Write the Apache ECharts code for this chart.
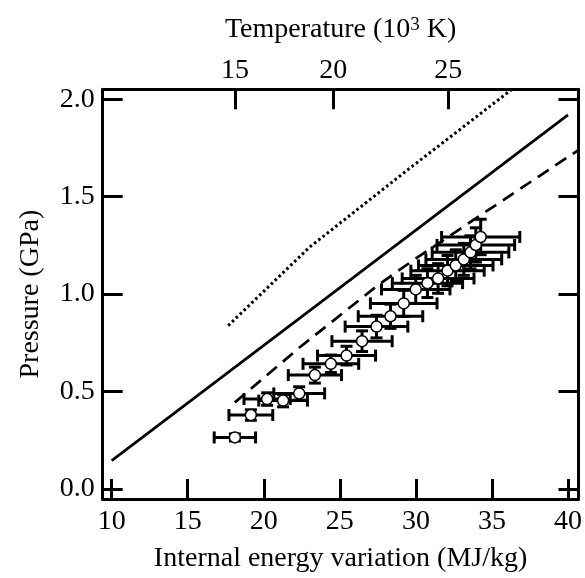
<!DOCTYPE html>
<html>
<head>
<meta charset="utf-8">
<script src="https://cdn.jsdelivr.net/npm/echarts@6/dist/echarts.min.js"></script>
<style>
html,body{margin:0;padding:0;background:#fff;}
#chart{width:585px;height:578px;}
</style>
</head>
<body>
<div id="chart"></div>
<script>
// ---- data ----
const energyTicks = [10, 15, 20, 25, 30, 35, 40];
const pressureTicks = [0, 0.5, 1.0, 1.5, 2.0];
const tempLabels = ['15', '20', '25'];
const tempTickEnergy = [18.10, 24.56, 32.12];

const energy = [18.10, 19.15, 20.22, 21.27, 22.33, 23.36, 24.41, 25.44, 26.46, 27.41, 28.33, 29.20, 29.99, 30.76, 31.46, 32.08, 32.62, 33.15, 33.59, 33.94, 34.26];
const pressure = [0.264, 0.379, 0.461, 0.453, 0.490, 0.584, 0.642, 0.684, 0.758, 0.833, 0.886, 0.952, 1.024, 1.056, 1.080, 1.120, 1.147, 1.178, 1.214, 1.252, 1.293];
const energyErr = [1.36, 1.44, 1.52, 1.60, 1.67, 1.75, 1.83, 1.91, 1.98, 2.06, 2.12, 2.19, 2.25, 2.31, 2.36, 2.41, 2.45, 2.49, 2.52, 2.55, 2.57];
const pressureErr = [0.018, 0.027, 0.032, 0.032, 0.034, 0.041, 0.045, 0.048, 0.053, 0.058, 0.062, 0.067, 0.072, 0.074, 0.076, 0.078, 0.080, 0.082, 0.085, 0.088, 0.091];

const solidX = [10, 40];
const solidY = [0.145, 1.92];
const dashedX = [18.1, 22.37, 27.63, 29.82, 33.76, 40.7];
const dashedY = [0.444, 0.727, 1.053, 1.173, 1.379, 1.74];
const dottedX = [17.66, 23.0, 29.5, 36.3];
const dottedY = [0.838, 1.24, 1.64, 2.05];

// ---- chart ----
const FONT = "'Liberation Serif', 'Times New Roman', serif";
const FS = 28;
const black = '#000';
const chart = echarts.init(document.getElementById('chart'), null, {renderer: 'canvas'});

const zip = (a, b) => a.map((v, i) => [v, b[i]]);

const baseAxis = {
  axisLine: {show: true, onZero: false, lineStyle: {color: black, width: 3}},
  splitLine: {show: false},
  axisTick: {show: true, inside: true, length: 20, lineStyle: {color: black, width: 3}},
};

const option = {
  animation: false,
  backgroundColor: '#fff',
  grid: {left: 102.7, right: 6.2, top: 89.3, bottom: 78.8, containLabel: false},
  xAxis: [
    Object.assign({}, baseAxis, {
      type: 'value', position: 'bottom', min: 9.41, max: 40.69,
      axisTick: Object.assign({}, baseAxis.axisTick, {customValues: energyTicks}),
      axisLabel: {customValues: energyTicks, fontFamily: FONT, fontSize: FS, color: black, margin: 9},
      name: 'Internal energy variation (MJ/kg)', nameLocation: 'middle', nameGap: 46,
      nameTextStyle: {fontFamily: FONT, fontSize: FS, color: black}
    }),
    Object.assign({}, baseAxis, {
      type: 'value', position: 'top', min: 9.41, max: 40.69,
      axisTick: Object.assign({}, baseAxis.axisTick, {customValues: tempTickEnergy}),
      axisLabel: {
        customValues: tempTickEnergy, fontFamily: FONT, fontSize: FS, color: black, margin: 5,
        formatter: function (v) {
          let best = 0;
          tempTickEnergy.forEach((t, i) => { if (Math.abs(t - v) < Math.abs(tempTickEnergy[best] - v)) best = i; });
          return tempLabels[best];
        }
      },
      name: 'Temperature (10{sup|3} K)', nameLocation: 'middle', nameGap: 46,
      nameTextStyle: {
        fontFamily: FONT, fontSize: FS, color: black,
        rich: {sup: {fontFamily: FONT, fontSize: 19, color: black, verticalAlign: 'top'}}
      }
    })
  ],
  yAxis: [
    Object.assign({}, baseAxis, {
      type: 'value', position: 'left', min: -0.052, max: 2.051,
      axisTick: Object.assign({}, baseAxis.axisTick, {customValues: pressureTicks}),
      axisLabel: {customValues: pressureTicks, fontFamily: FONT, fontSize: FS, color: black, margin: 8,
        formatter: v => Number(v).toFixed(1)},
      name: 'Pressure (GPa)', nameLocation: 'middle', nameGap: 58,
      nameTextStyle: {fontFamily: FONT, fontSize: FS, color: black}
    }),
    Object.assign({}, baseAxis, {
      type: 'value', position: 'right', min: -0.052, max: 2.051,
      axisTick: Object.assign({}, baseAxis.axisTick, {customValues: pressureTicks}),
      axisLabel: {show: false}
    })
  ],
  series: [
    {
      type: 'line', xAxisIndex: 0, yAxisIndex: 0, data: zip(solidX, solidY), symbol: 'none',
      lineStyle: {color: black, width: 2.7}, z: 1
    },
    {
      type: 'line', xAxisIndex: 0, yAxisIndex: 0, data: zip(dashedX, dashedY), symbol: 'none',
      lineStyle: {color: black, width: 2.7, type: [13, 8]}, z: 1
    },
    {
      type: 'line', xAxisIndex: 0, yAxisIndex: 0, data: zip(dottedX, dottedY), symbol: 'none',
      lineStyle: {color: black, width: 3, type: [2.6, 2.8]}, z: 1
    },
    {
      type: 'custom', xAxisIndex: 0, yAxisIndex: 0,
      data: energy.map((e, i) => [e, pressure[i], energyErr[i], pressureErr[i]]),
      encode: {x: 0, y: 1},
      renderItem: function (params, api) {
        const x = api.value(0), y = api.value(1), ex = api.value(2), ey = api.value(3);
        const l = api.coord([x - ex, y]);
        const r = api.coord([x + ex, y]);
        const t = api.coord([x, y + ey]);
        const b = api.coord([x, y - ey]);
        const cap = 6;
        const st = {stroke: black, lineWidth: 3};
        const ln = (x1, y1, x2, y2) => ({type: 'line', shape: {x1, y1, x2, y2}, style: st});
        return {
          type: 'group',
          children: [
            ln(l[0], l[1], r[0], r[1]),
            ln(l[0], l[1] - cap, l[0], l[1] + cap),
            ln(r[0], r[1] - cap, r[0], r[1] + cap),
            ln(t[0], t[1], b[0], b[1]),
            ln(t[0] - cap, t[1], t[0] + cap, t[1]),
            ln(b[0] - cap, b[1], b[0] + cap, b[1])
          ]
        };
      },
      z: 2
    },
    {
      type: 'scatter', xAxisIndex: 0, yAxisIndex: 0, data: zip(energy, pressure),
      symbol: 'circle', symbolSize: 11,
      itemStyle: {color: '#fff', borderColor: black, borderWidth: 1.5, opacity: 1},
      z: 3
    }
  ]
};
chart.setOption(option);
</script>
</body>
</html>
